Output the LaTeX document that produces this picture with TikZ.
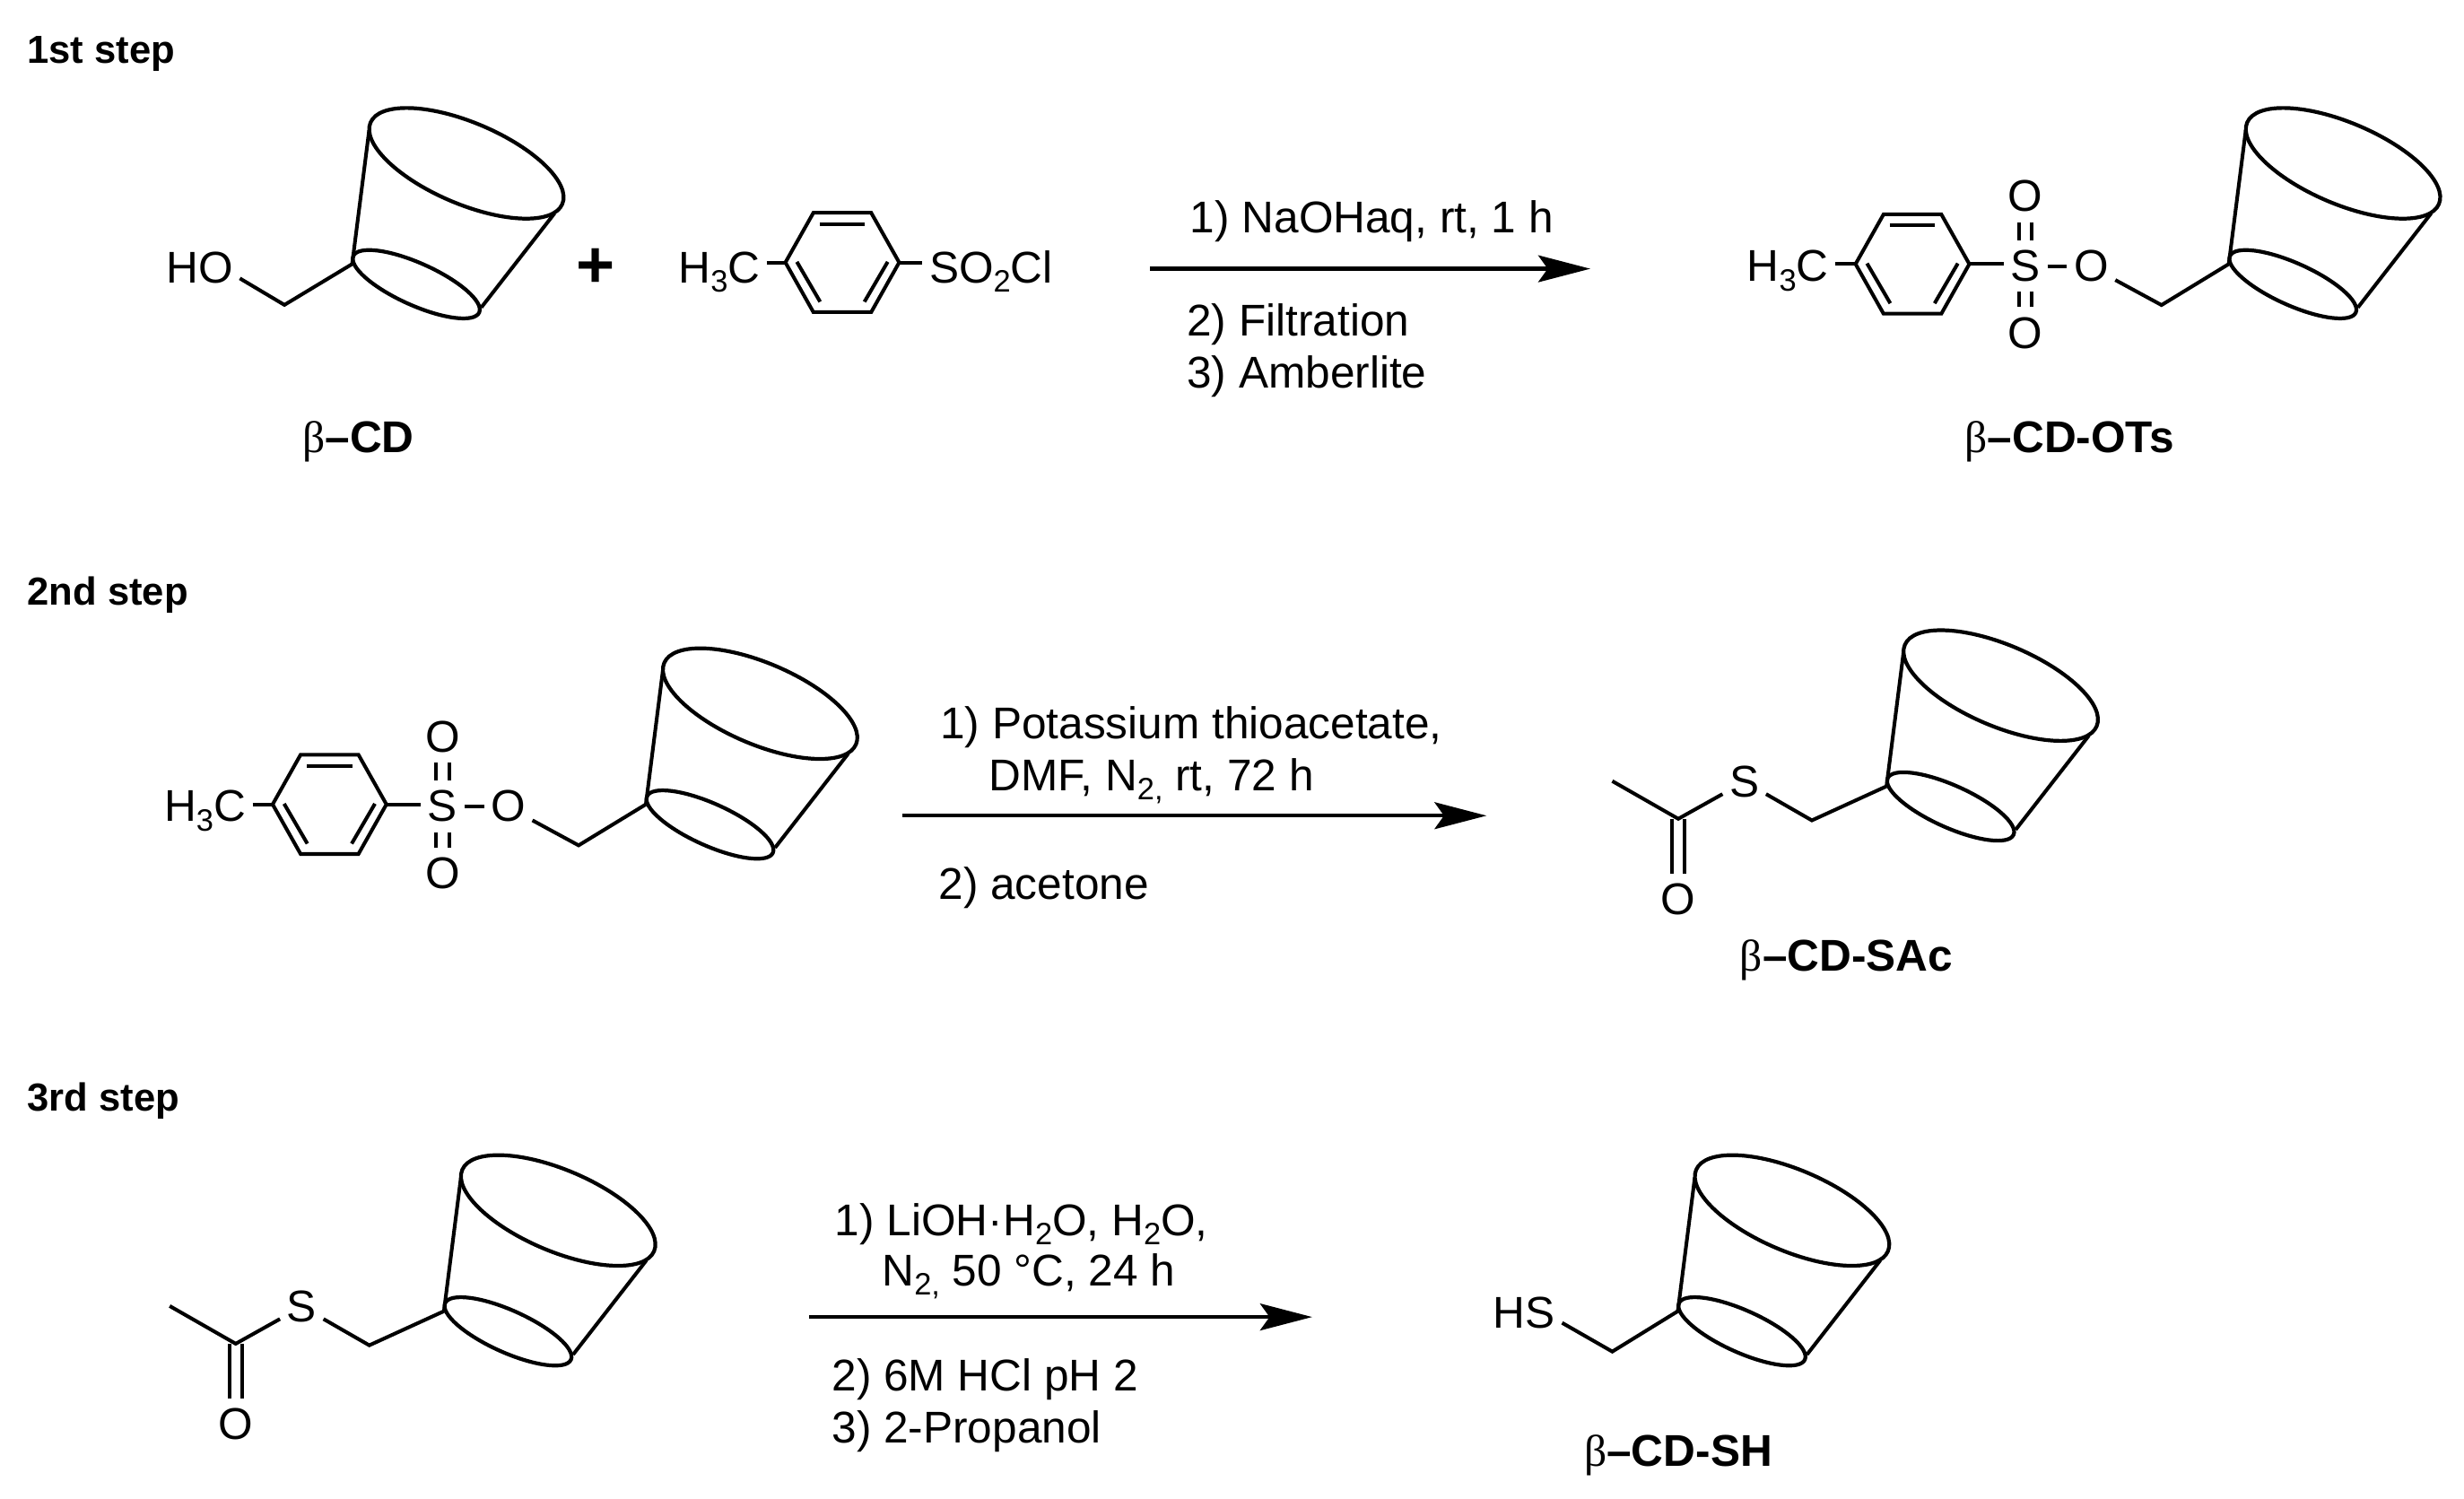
\documentclass[tikz,border=0pt]{standalone}
\usepackage{fontspec}
\setmainfont{Liberation Sans}
\newfontfamily\serifbeta{Liberation Serif}
\usetikzlibrary{arrows.meta,calc}
\newcommand{\sbs}[1]{\raisebox{-0.21em}{\fontsize{9.8}{9.8}\selectfont #1}}
\newcommand{\betalabel}[1]{{\serifbeta β}\textbf{–#1}}
\tikzset{
  bond/.style={line width=1.15pt,line cap=butt,line join=miter},
  rim/.style={line width=1.2pt},
  atom/.style={font=\fontsize{14.1}{16}\selectfont,inner xsep=2pt,inner ysep=3pt,anchor=base},
  reagent/.style={font=\fontsize{14.1}{16}\selectfont,inner sep=0pt,anchor=base west},
  stepname/.style={font=\bfseries\fontsize{12.4}{14}\selectfont,inner sep=0pt,anchor=base west},
  cdname/.style={font=\fontsize{14.1}{16}\selectfont,inner sep=0pt,anchor=base},
  rxn/.style={line width=1.2pt,-{Stealth[length=16.5pt,width=8.5pt,inset=3pt]}},
  x=0.017519cm,y=-0.017519cm
}
% cone: #1 name, attachment point at (#2,#3)
\newcommand{\cdcone}[3]{
  \coordinate (#1) at (#2,#3);
  \begin{scope}[shift={(#2,#3)}]
    \begin{scope}[shift={(72.7,-64.1)},rotate=-23]
      \draw[rim] (0,0) ellipse [x radius=66.3,y radius=25.9];
    \end{scope}
    \begin{scope}[shift={(40.8,12.85)},rotate=-24.2]
      \draw[rim] (0,0) ellipse [x radius=43.9,y radius=13.4];
    \end{scope}
    \draw[bond] (10.8,-85) -- (0,0);
    \draw[bond] (128.8,-32.3) -- (82.2,27.6);
  \end{scope}
}
% benzene ring: #1 name, centre (#2,#3)
\newcommand{\bzring}[3]{
  \begin{scope}[shift={(#2,#3)}]
    \coordinate (#1l) at (-36.2,0);
    \coordinate (#1ul) at (-18.4,-31.6);
    \coordinate (#1ur) at (18.4,-31.6);
    \coordinate (#1r) at (36.2,0);
    \coordinate (#1lr) at (18.4,31.6);
    \coordinate (#1ll) at (-18.4,31.6);
    \draw[bond] (#1l) -- (#1ul) -- (#1ur) -- (#1r) -- (#1lr) -- (#1ll) -- cycle;
    \draw[bond] (-14.4,-24.5) -- (14.4,-24.5);
    \draw[bond] (-28.9,-0.4) -- (-14.1,25);
    \draw[bond] (28.9,-0.4) -- (14.1,25);
  \end{scope}
}
% tosylate with cone: #1 name, ring centre (#2,#3)
\newcommand{\tosyl}[3]{
  \bzring{#1}{#2}{#3}
  \begin{scope}[shift={(#2,#3)}]
    \node[atom,anchor=base east] (#1me) at (-49,11) {H\sbs{3}C};
    \node[atom] (#1S) at (72,11) {S};
    \node[atom] (#1Ou) at (72,-33.3) {O};
    \node[atom] (#1Od) at (72,53.6) {O};
    \node[atom] (#1Or) at (113.7,11) {O};
    \coordinate (#1ch) at (158.5,26.1);
  \end{scope}
  \draw[bond] (#1me.east |- #1l) -- (#1l);
  \draw[bond] (#1r) -- (#1S.west |- #1r);
  \draw[bond] (#1S.east) -- (#1Or.west);
  \draw[bond] ([xshift=-2.05pt]#1S.north) -- ([xshift=-2.05pt]#1Ou.south);
  \draw[bond] ([xshift=2.05pt]#1S.north) -- ([xshift=2.05pt]#1Ou.south);
  \draw[bond] ([xshift=-2.05pt]#1S.south) -- ([xshift=-2.05pt]#1Od.north);
  \draw[bond] ([xshift=2.05pt]#1S.south) -- ([xshift=2.05pt]#1Od.north);
  \cdcone{#1cd}{\fpeval{#2+201.3}}{#3}
  \draw[bond] (#1Or.-30) -- (#1ch) -- (#1cd);
}
% thioacetate: #1 name, carbonyl carbon (#2,#3)
\newcommand{\thioac}[3]{
  \begin{scope}[shift={(#2,#3)}]
    \coordinate (#1me) at (-42,-24);
    \coordinate (#1c) at (0,0);
    \node[atom] (#1O) at (0,61) {O};
    \node[atom] (#1S) at (42,-14) {S};
    \coordinate (#1ch) at (85,1);
  \end{scope}
  \cdcone{#1cd}{\fpeval{#2+132.5}}{\fpeval{#3-20.7}}
  \draw[bond] (#1me) -- (#1c) -- (#1S.-150);
  \draw[bond] ([xshift=-2.05pt]#1c) -- ([xshift=-2.05pt]#1O.north);
  \draw[bond] ([xshift=2.05pt]#1c) -- ([xshift=2.05pt]#1O.north);
  \draw[bond] (#1S.-30) -- (#1ch) -- (#1cd);
}
\begin{document}
\begin{tikzpicture}
\useasboundingbox (0,0) rectangle (1568,953.8);
\fill[white] (0,0) rectangle (1568,953.8);

% step names
\node[stepname] (s1) at (17,40) {1st step};
\node[stepname] (s2) at (17,385) {2nd step};
\node[stepname] (s3) at (17,707) {3rd step};

% step 1
\node[atom] (ho) at (127,180) {HO};
\coordinate (hoch) at (181,194);
\cdcone{cda}{224.1}{168}
\draw[bond] (ho.-15) -- (hoch) -- (cda);
\node[cdname] (lba) at (228,288) {\betalabel{CD}};
\node[font=\bfseries\fontsize{21}{21}\selectfont,inner sep=0pt] (plus) at (379.2,170.8) {+};

\bzring{rg}{536}{167}
\node[atom,anchor=base east] (rgme) at (488,180) {H\sbs{3}C};
\node[atom,anchor=base west] (rgso) at (587,180) {SO\sbs{2}Cl};
\draw[bond] (rgme.east |- rgl) -- (rgl);
\draw[bond] (rgr) -- (rgso.west |- rgr);

\coordinate (a1s) at (732,171);
\coordinate (a1e) at (1012,171);
\draw[rxn] (a1s) -- (a1e);
\node[reagent] (t11) at (757,148) {1) NaOHaq, rt, 1 h};
\node[reagent] (t12) at (755,214) {2) Filtration};
\node[reagent] (t13) at (755,247) {3) Amberlite};

\tosyl{pa}{1217}{168}
\node[cdname] (lbb) at (1317,288) {\betalabel{CD-OTs}};

% step 2
\tosyl{pb}{209.7}{511.8}
\coordinate (a2s) at (574,519);
\coordinate (a2e) at (946,519);
\draw[rxn] (a2s) -- (a2e);
\node[reagent] (t21) at (598,470) {1) Potassium thioacetate,};
\node[reagent] (t22) at (629,503) {DMF, N\sbs{2,} rt, 72 h};
\node[reagent] (t23) at (597,572) {2) acetone};

\thioac{pc}{1068}{521}
\node[cdname] (lbc) at (1175,618) {\betalabel{CD-SAc}};

% step 3
\thioac{pd}{150}{855}
\coordinate (a3s) at (515,838);
\coordinate (a3e) at (835,838);
\draw[rxn] (a3s) -- (a3e);
\node[reagent] (t31) at (531,786) {1) LiOH·H\sbs{2}O, H\sbs{2}O,};
\node[reagent] (t32) at (561,818) {N\sbs{2,} 50 °C, 24 h};
\node[reagent] (t33) at (529,885) {2) 6M HCl pH 2};
\node[reagent] (t34) at (529,918) {3) 2-Propanol};

\node[atom] (hs) at (970,845) {HS};
\coordinate (hsch) at (1026,860);
\cdcone{cde}{1067.7}{834.3}
\draw[bond] (hs.-15) -- (hsch) -- (cde);
\node[cdname] (lbe) at (1068,933) {\betalabel{CD-SH}};
\end{tikzpicture}
\end{document}
